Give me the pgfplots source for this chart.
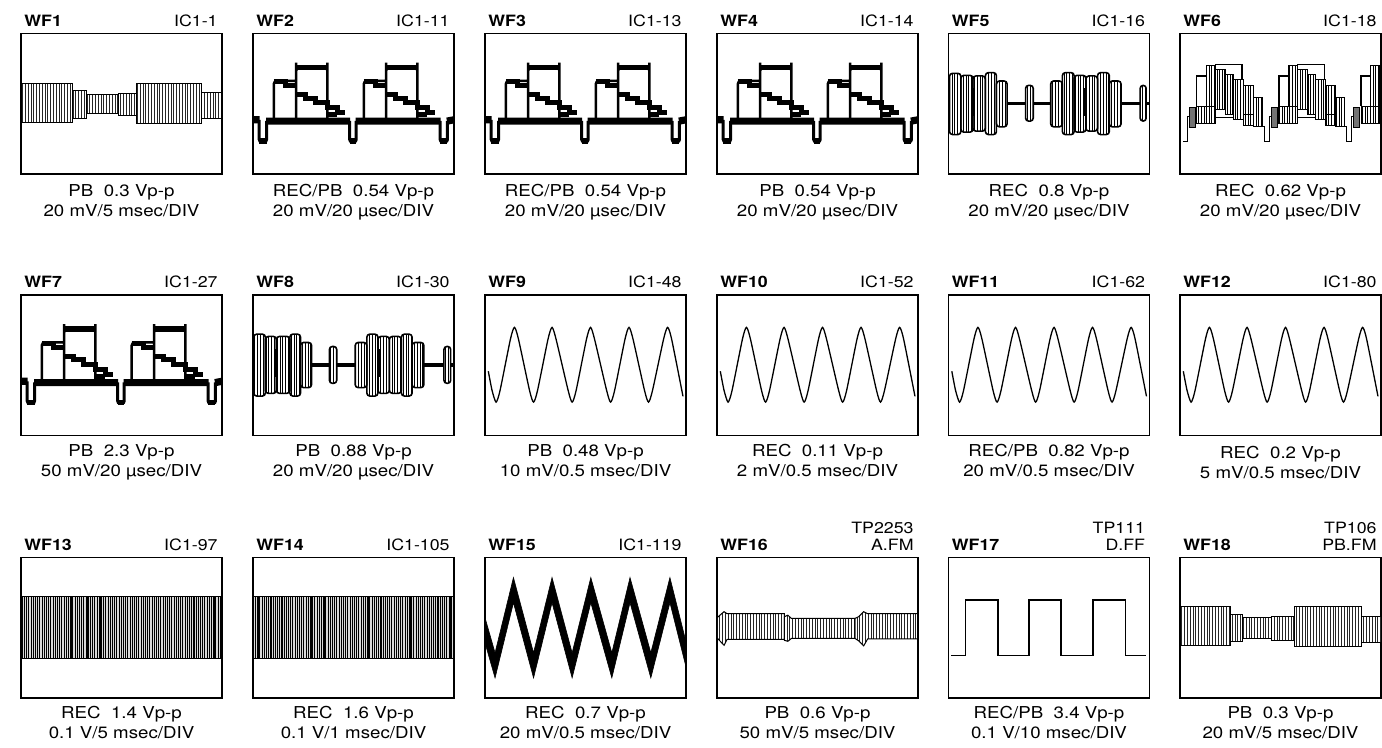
\documentclass[border=0pt]{standalone}
\usepackage{fontspec}
\setmainfont{TeX Gyre Heros}[FakeStretch=1.14]
\usepackage{pgfplots}
\pgfplotsset{compat=1.18}
\usepackage{pgfplotstable}
\usetikzlibrary{patterns.meta}

\newcommand\labf{\fontsize{7.8}{9}\selectfont}
\newcommand\capf{\fontsize{8.2}{10}\selectfont}

\pgfplotsset{
  wf/.style={width=100.5pt,height=70.25pt,scale only axis,
    xmin=0,xmax=200,ymin=0,ymax=140,xtick=\empty,ytick=\empty,
    axis line style={line width=0.7pt},anchor=north west,
    unbounded coords=jump},
  hA/.style={pattern={Lines[angle=90,distance=1.4pt,line width=0.3pt]},pattern color=black!85,draw=black,line width=0.5pt},
  hC/.style={pattern={Lines[angle=90,distance=1.4pt,line width=0.35pt]},draw=black,line width=0.8pt,rounded corners=1.5pt},
  hS/.style={pattern={Lines[angle=90,distance=1.3pt,line width=0.3pt]},draw=black,line width=0.45pt},
  hK/.style={fill=black!55,draw=black,line width=0.45pt},
}
\newcommand\Rect[5]{\addplot[#1] coordinates {(#2,#4) (#2,#5) (#3,#5) (#3,#4)} -- cycle;}

% ---------- video-type waveform (WF2, WF3, WF4, WF7) ----------
\pgfplotstableread{
x y
0 54
6.7 54
nan nan
13 52.7
96.7 52.7
nan nan
102.2 52.7
186.7 52.7
nan nan
193 52.7
200 54
}\tvbase
\pgfplotstableread{
x y
6.2 54
6.2 32
13.5 32
13.5 53
nan nan
96.2 53
96.2 32
102.7 32
102.7 53
nan nan
186.2 53
186.2 32
193.5 32
193.5 53
}\tvpulse
\pgfplotstableread{
x y
6.2 32.8
13.5 32.8
nan nan
96.2 32.8
102.7 32.8
nan nan
186.2 32.8
193.5 32.8
}\tvpb
\pgfplotstableread{
x y
20.7 52.7
20.7 92.7
43 92.7
nan nan
43 52.7
43 106
74 106
74 52.7
nan nan
110.2 52.7
110.2 92.7
132.5 92.7
nan nan
132.5 52.7
132.5 106
163.5 106
163.5 52.7
nan nan
43 101
43 111
nan nan
74 101
74 111
nan nan
132.5 101
132.5 111
nan nan
163.5 101
163.5 111
}\tvthin
\pgfplotstableread{
x y
43 106
74 106
nan nan
132.5 106
163.5 106
}\tvbar
\pgfplotstableread{
x y
20.7 92
32 92
32 88
43 88
nan nan
43 79
52.5 79
52.5 75.5
62.5 75.5
62.5 71
74 71
74 66
84 66
84 61
92 61
nan nan
74 59
84 59
nan nan
110.2 92
121.5 92
121.5 88
132.5 88
nan nan
132.5 79
142 79
142 75.5
152 75.5
152 71
163.5 71
163.5 66
173.5 66
173.5 61
181.5 61
nan nan
163.5 59
173.5 59
}\tvstair
\newcommand\tvplots{%
  \addplot[line width=3.6pt] table {\tvbase};
  \addplot[line width=1.5pt,rounded corners=1.2pt] table {\tvpulse};
  \addplot[line width=2.6pt] table {\tvpb};
  \addplot[line width=1.25pt,rounded corners=1.5pt] table {\tvthin};
  \addplot[line width=2.8pt] table {\tvbar};
  \addplot[line width=2.4pt] table {\tvstair};
}

% ---------- triangle-like waveform (WF9 - WF12) ----------
\pgfplotstableread{
x y
3.3 64
7 45
11 33.3
15 45
25.3 96
29.3 107.7
33.3 96
44.3 45
48.3 33.3
52.3 45
62.7 96
66.7 107.7
70.7 96
82.7 45
86.7 33.3
90.7 45
101 96
105 107.7
109 96
121 45
125 33.3
129 45
139.3 96
143.3 107.7
147.3 96
158.7 45
162.7 33.3
166.7 45
177.7 96
181.7 107.7
185.7 96
197 39
}\wfnine

% ---------- WF6 outlines ----------
\pgfplotstableread{
x y
3.3 32.7
7.3 32.7
7.3 57
9.3 57
nan nan
16.7 67.7
16.7 97.7
26 97.7
nan nan
35 104.3
35 109.3
61.7 109.3
61.7 94.3
nan nan
35 64.3
35 56
53.3 56
53.3 59.3
nan nan
81.7 47.7
84 47.7
84 32.7
89 32.7
89 57
91 57
nan nan
98.4 67.7
98.4 97.7
107.7 97.7
nan nan
116.7 104.3
116.7 109.3
143.4 109.3
143.4 94.3
nan nan
116.7 64.3
116.7 56
135 56
135 59.3
nan nan
163.4 47.7
165.7 47.7
165.7 32.7
170.7 32.7
170.7 57
172.7 57
nan nan
180.1 67.7
180.1 97.7
189.4 97.7
}\wfsixo

\newcommand\TL[5]{\node[anchor=base west,font=\labf\bfseries,inner sep=0pt] at (#1+3,#3) {#4};
  \node[anchor=base east,font=\labf,inner sep=0pt] at (#2-4,#3) {#5};}
\newcommand\CP[4]{\node[anchor=base,font=\capf,inner sep=0pt] at (#1,#2) {#3};
  \node[anchor=base,font=\capf,inner sep=0pt] at (#1,#2+20) {#4};}

\begin{document}
\begin{tikzpicture}[x=0.5pt,y=-0.5pt]
\useasboundingbox (0,0) rectangle (1382,748);
\coordinate (a1) at (21,33.5);   \coordinate (a2) at (253,33.5);   \coordinate (a3) at (485,33.5);
\coordinate (a4) at (717,33.5);  \coordinate (a5) at (948.5,33.5); \coordinate (a6) at (1180,33.5);
\coordinate (b1) at (21,295);    \coordinate (b2) at (253,295);    \coordinate (b3) at (485,295);
\coordinate (b4) at (717,295);   \coordinate (b5) at (948.5,295);  \coordinate (b6) at (1180,295);
\coordinate (c1) at (21,557.5);  \coordinate (c2) at (253,557.5);  \coordinate (c3) at (485,557.5);
\coordinate (c4) at (717,557.5); \coordinate (c5) at (948.5,557.5);\coordinate (c6) at (1180,557.5);

% ================= ROW 1 =================
% WF1
\begin{axis}[wf,at={(a1)}]
\Rect{hA}{0}{51}{51}{90}
\Rect{hA}{51}{65}{55.5}{83}
\Rect{hA}{65}{97}{60}{79}
\Rect{hA}{97}{115}{58}{80.5}
\Rect{hA}{115}{180}{50.5}{90}
\Rect{hA}{180}{200}{55}{81}
\end{axis}
% WF2
\begin{axis}[wf,at={(a2)}]
\tvplots
\end{axis}
% WF3
\begin{axis}[wf,at={(a3)}]
\tvplots
\end{axis}
% WF4
\begin{axis}[wf,at={(a4)}]
\tvplots
\end{axis}
% WF5
\begin{axis}[wf,at={(a5)}]
\addplot[line width=1.8pt] coordinates {(58.3,70.3) (76.7,70.3)};
\addplot[line width=1.8pt] coordinates {(84.3,70.3) (101.7,70.3)};
\addplot[line width=1.8pt] coordinates {(171.7,70.3) (190.7,70.3)};
\addplot[line width=1.8pt] coordinates {(196.7,70.3) (200,70.3)};
\Rect{hC}{1}{12.3}{39.3}{100.3}
\Rect{hC}{12.3}{24.3}{41.7}{98.3}
\Rect{hC}{24.3}{36.7}{42.7}{97.7}
\Rect{hC}{36.7}{47.7}{39.3}{101}
\Rect{hC}{47.7}{58.3}{47}{92.7}
\Rect{hC}{76.7}{84.3}{52.7}{88.3}
\Rect{hC}{101.7}{113.3}{47}{92.7}
\Rect{hC}{113.3}{125}{39.3}{101}
\Rect{hC}{125}{136.7}{41.7}{98.3}
\Rect{hC}{136.7}{148.3}{42.7}{97.7}
\Rect{hC}{148.3}{160}{39.3}{101}
\Rect{hC}{160}{171.7}{47}{92.7}
\Rect{hC}{190.7}{196.7}{52.7}{88.3}
\Rect{fill=black,draw=none}{22.5}{25}{57.7}{86}
\Rect{fill=black,draw=none}{134.5}{137}{57.7}{86}
\end{axis}
% WF6
\begin{axis}[wf,at={(a6)}]
\Rect{hK}{9.3}{15}{46}{66}
\Rect{hS}{16.7}{35}{50.3}{67.7}
\Rect{hS}{26}{35}{67.7}{107.7}
\Rect{hS}{35}{45}{64.3}{104.3}
\Rect{hS}{45}{53.3}{59.3}{99.3}
\Rect{hS}{53.3}{63.3}{54.3}{94.3}
\Rect{hS}{63.3}{72.7}{59.3}{88.3}
\Rect{hS}{72.7}{81.7}{47.7}{76}
\Rect{hS}{63.3}{72.7}{48.3}{59.3}
\Rect{hK}{91}{96.7}{46}{66}
\Rect{hS}{98.4}{116.7}{50.3}{67.7}
\Rect{hS}{107.7}{116.7}{67.7}{107.7}
\Rect{hS}{116.7}{126.7}{64.3}{104.3}
\Rect{hS}{126.7}{135}{59.3}{99.3}
\Rect{hS}{135}{145}{54.3}{94.3}
\Rect{hS}{145}{154.4}{59.3}{88.3}
\Rect{hS}{154.4}{163.4}{47.7}{76}
\Rect{hS}{145}{154.4}{48.3}{59.3}
\Rect{hK}{172.7}{178.4}{46}{66}
\Rect{hS}{180.1}{198.4}{50.3}{67.7}
\Rect{hS}{189.4}{198.4}{67.7}{107.7}
\Rect{hS}{198.4}{202}{64.3}{104.3}
\addplot[line width=0.6pt] table {\wfsixo};
\end{axis}

% ================= ROW 2 =================
% WF7
\begin{axis}[wf,at={(b1)}]
\tvplots
\end{axis}
% WF8
\begin{axis}[wf,at={(b2)}]
\addplot[line width=1.8pt] coordinates {(58.3,70) (76,70)};
\addplot[line width=1.8pt] coordinates {(83.3,70) (101.7,70)};
\addplot[line width=1.8pt] coordinates {(170,70) (190,70)};
\addplot[line width=1.8pt] coordinates {(196.7,70) (200,70)};
\Rect{hC}{0.7}{12.3}{39.3}{101}
\Rect{hC}{12.3}{23.3}{42}{98.7}
\Rect{hC}{23.3}{36.7}{42}{98.7}
\Rect{hC}{36.7}{47.3}{39.3}{101}
\Rect{hC}{47.3}{58.3}{47.7}{92.7}
\Rect{hC}{76}{83.3}{52}{88.7}
\Rect{hC}{101.7}{113.3}{47.7}{92.7}
\Rect{hC}{113.3}{124.3}{39.3}{101}
\Rect{hC}{124.3}{135.7}{42}{98.7}
\Rect{hC}{135.7}{147.7}{42}{98.7}
\Rect{hC}{147.7}{158.3}{39.3}{101}
\Rect{hC}{158.3}{170}{47.7}{92.7}
\Rect{hC}{190}{196.7}{52}{88.7}
\Rect{fill=black,draw=none}{22.3}{24.8}{58}{86}
\Rect{fill=black,draw=none}{124}{126.5}{58}{86}
\end{axis}
% WF9
\begin{axis}[wf,at={(b3)}]
\addplot[line width=0.65pt,smooth,tension=0.4] table {\wfnine};
\end{axis}
% WF10
\begin{axis}[wf,at={(b4)}]
\addplot[line width=0.65pt,smooth,tension=0.4] table {\wfnine};
\end{axis}
% WF11
\begin{axis}[wf,at={(b5)}]
\addplot[line width=0.65pt,smooth,tension=0.4] table {\wfnine};
\end{axis}
% WF12
\begin{axis}[wf,at={(b6)}]
\addplot[line width=0.65pt,smooth,tension=0.4] table {\wfnine};
\end{axis}

% ================= ROW 3 =================
% WF13
\begin{axis}[wf,at={(c1)}]
\Rect{fill=black!15,draw=none}{0}{200}{39.3}{101}
\Rect{pattern={Lines[angle=90,distance=1.1pt,line width=0.28pt]},draw=black,line width=0.5pt}{0}{200}{39.3}{101}
\addplot[line width=0.55pt] coordinates {(7.3,39.3)(7.3,101)(12.3,101)(12.3,39.3)(34,39.3)(34,101)(38.3,101)(38.3,39.3)(47.3,39.3)(47.3,101)(50.7,101)(50.7,39.3)(65.7,39.3)(65.7,101)(79,101)(79,39.3)(89,39.3)(89,101)(104,101)(104,39.3)(122.3,39.3)(122.3,101)(144,101)(144,39.3)(152.3,39.3)(152.3,101)(172.3,101)(172.3,39.3)(179,39.3)(179,101)(192.3,101)(192.3,39.3)};
\end{axis}
% WF14
\begin{axis}[wf,at={(c2)}]
\Rect{fill=black!15,draw=none}{0}{200}{39.3}{101}
\Rect{pattern={Lines[angle=90,distance=1.1pt,line width=0.28pt]},draw=black,line width=0.5pt}{0}{200}{39.3}{101}
\addplot[line width=0.55pt] coordinates {(5,39.3)(5,101)(18,101)(18,39.3)(29,39.3)(29,101)(44,101)(44,39.3)(58,39.3)(58,101)(71,101)(71,39.3)(86,39.3)(86,101)(99,101)(99,39.3)(115,39.3)(115,101)(128,101)(128,39.3)(141,39.3)(141,101)(157,101)(157,39.3)(169,39.3)(169,101)(184,101)(184,39.3)(196,39.3)(196,101)};
\end{axis}
% WF15
\begin{axis}[wf,at={(c3)}]
\addplot[fill=black,draw=black,line width=0.3pt] coordinates {(0,80)(10,45)(28.3,120)(48.3,45)(66.7,120)(86.7,45)(105.3,120)(126.2,45)(144.3,120)(165,45)(184,120)(200,56)(200,31)(184,95)(165,20)(144.3,95)(126.2,20)(105.3,95)(86.7,20)(66.7,95)(48.3,20)(28.3,95)(10,20)(0,55)} -- cycle;
\end{axis}
% WF16
\begin{axis}[wf,at={(c4)}]
\addplot[hA] coordinates {(0,60)(0,80)(7,86)(10,84)(67,84)(67,58.3)(10,58.3)(7,52.5)} -- cycle;
\addplot[hA] coordinates {(67,57.5)(67,81)(70.5,82.5)(74,79.3)(137.3,79.3)(137.3,59.3)(74,59.3)(70.5,56.5)} -- cycle;
\addplot[hA] coordinates {(137.3,59.3)(137.3,79.3)(141,81)(146,86)(150,84)(200,84)(200,59)(150,59)(146,52)(141,57)} -- cycle;
\end{axis}
% WF17
\begin{axis}[wf,at={(c5)}]
\addplot[line width=0.6pt] coordinates {(2.7,42.7)(17,42.7)(17,97.7)(49.3,97.7)(49.3,42.7)(80,42.7)(80,97.7)(112,97.7)(112,42.7)(143.7,42.7)(143.7,97.7)(176,97.7)(176,42.7)(197,42.7)};
\end{axis}
% WF18
\begin{axis}[wf,at={(c6)}]
\Rect{hA}{0}{50.7}{52.3}{90.7}
\Rect{hA}{50.7}{62}{56}{83}
\Rect{hA}{62}{90.7}{59}{80}
\Rect{hA}{90.7}{114}{57.3}{81.7}
\Rect{hA}{114}{180.7}{51.7}{90.7}
\Rect{hA}{180.7}{200}{55.7}{81.7}
\end{axis}

% ================= TEXTS =================
\TL{21}{222}{26.2}{WF1}{IC1-1}
\TL{253}{454}{26.2}{WF2}{IC1-11}
\TL{485}{686}{26.2}{WF3}{IC1-13}
\TL{717}{918}{26.2}{WF4}{IC1-14}
\TL{948.5}{1149.5}{26.2}{WF5}{IC1-16}
\TL{1180}{1381}{26.2}{WF6}{IC1-18}
\CP{121.5}{196.5}{PB~~0.3 Vp-p}{20 mV/5 msec/DIV}
\CP{353.5}{196.5}{REC/PB~~0.54 Vp-p}{20 mV/20 µsec/DIV}
\CP{585.5}{196.5}{REC/PB~~0.54 Vp-p}{20 mV/20 µsec/DIV}
\CP{817.5}{196.5}{PB~~0.54 Vp-p}{20 mV/20 µsec/DIV}
\CP{1049}{196.5}{REC~~0.8 Vp-p}{20 mV/20 µsec/DIV}
\CP{1280.5}{196.5}{REC~~0.62 Vp-p}{20 mV/20 µsec/DIV}

\TL{21}{222}{287.7}{WF7}{IC1-27}
\TL{253}{454}{287.7}{WF8}{IC1-30}
\TL{485}{686}{287.7}{WF9}{IC1-48}
\TL{717}{918}{287.7}{WF10}{IC1-52}
\TL{948.5}{1149.5}{287.7}{WF11}{IC1-62}
\TL{1180}{1381}{287.7}{WF12}{IC1-80}
\CP{121.5}{457}{PB~~2.3 Vp-p}{50 mV/20 µsec/DIV}
\CP{353.5}{457}{PB~~0.88 Vp-p}{20 mV/20 µsec/DIV}
\CP{585.5}{457}{PB~~0.48 Vp-p}{10 mV/0.5 msec/DIV}
\CP{817.5}{457}{REC~~0.11 Vp-p}{2 mV/0.5 msec/DIV}
\CP{1049}{457}{REC/PB~~0.82 Vp-p}{20 mV/0.5 msec/DIV}
\CP{1280.5}{459}{REC~~0.2 Vp-p}{5 mV/0.5 msec/DIV}

\TL{21}{222}{550.2}{WF13}{IC1-97}
\TL{253}{454}{550.2}{WF14}{IC1-105}
\TL{485}{686}{550.2}{WF15}{IC1-119}
\TL{717}{918}{550.2}{WF16}{A.FM}
\TL{948.5}{1149.5}{550.2}{WF17}{D.FF}
\TL{1180}{1381}{550.2}{WF18}{PB.FM}
\node[anchor=base east,font=\labf,inner sep=0pt] at (914,533.3) {TP2253};
\node[anchor=base east,font=\labf,inner sep=0pt] at (1145.5,533.3) {TP111};
\node[anchor=base east,font=\labf,inner sep=0pt] at (1377,533.3) {TP106};
\CP{121.5}{718.3}{REC~~1.4 Vp-p}{0.1 V/5 msec/DIV}
\CP{353.5}{718.3}{REC~~1.6 Vp-p}{0.1 V/1 msec/DIV}
\CP{585.5}{718.3}{REC~~0.7 Vp-p}{20 mV/0.5 msec/DIV}
\CP{817.5}{718.3}{PB~~0.6 Vp-p}{50 mV/5 msec/DIV}
\CP{1049}{718.3}{REC/PB~~3.4 Vp-p}{0.1 V/10 msec/DIV}
\CP{1280.5}{718.3}{PB~~0.3 Vp-p}{20 mV/5 msec/DIV}
\end{tikzpicture}
\end{document}
